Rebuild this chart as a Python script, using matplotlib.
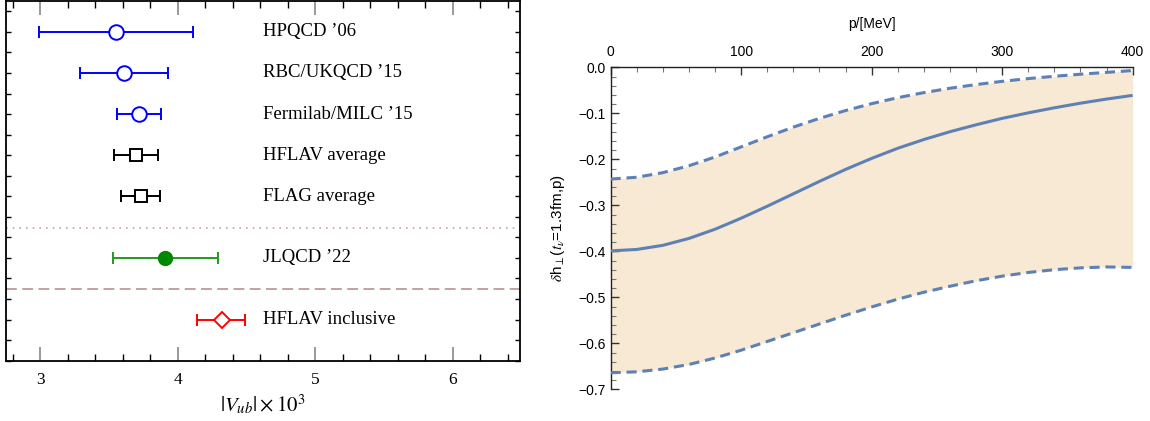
import numpy as np
import matplotlib
matplotlib.use('Agg')
import matplotlib.pyplot as plt
from matplotlib.ticker import MultipleLocator

# --- left panel: |Vub| determinations ---
labels = ["HPQCD \u201906", "RBC/UKQCD \u201915", "Fermilab/MILC \u201915", "HFLAV average",
          "FLAG average", "JLQCD \u201922", "HFLAV inclusive"]
vub = [3.55, 3.61, 3.72, 3.70, 3.73, 3.91, 4.32]
err_lo = [0.56, 0.32, 0.16, 0.16, 0.14, 0.38, 0.18]
err_hi = [0.56, 0.32, 0.16, 0.16, 0.14, 0.38, 0.17]
rows = [7, 6, 5, 4, 3, 1.5, 0]

# --- right panel: delta h_perp vs p ---
p = [0, 20, 40, 60, 80, 100, 120, 140, 160, 180, 200,
     220, 240, 260, 280, 300, 320, 340, 360, 380, 400]
central = [-0.399, -0.396, -0.387, -0.372, -0.352, -0.328, -0.302, -0.275, -0.248, -0.222, -0.198,
           -0.176, -0.157, -0.140, -0.125, -0.111, -0.099, -0.088, -0.078, -0.069, -0.061]
upper = [-0.243, -0.239, -0.229, -0.214, -0.195, -0.173, -0.151, -0.130, -0.111, -0.094, -0.079,
         -0.066, -0.055, -0.0455, -0.0375, -0.0305, -0.0245, -0.0195, -0.015, -0.011, -0.007]
lower = [-0.664, -0.662, -0.656, -0.646, -0.632, -0.615, -0.596, -0.577, -0.558, -0.539, -0.521,
         -0.504, -0.489, -0.476, -0.464, -0.454, -0.446, -0.440, -0.436, -0.434, -0.435]

plt.rcParams['mathtext.fontset'] = 'stix'

fig = plt.figure(figsize=(11.5, 4.21), dpi=100)

# ---------------- left ----------------
ax = fig.add_axes([0.005, 0.1432, 0.4472, 0.8544])
styles = [
    dict(color='#0000ff', marker='o', mfc='white', ms=10.5, mew=1.4, elw=1.4),
    dict(color='#0000ff', marker='o', mfc='white', ms=10.5, mew=1.4, elw=1.4),
    dict(color='#0000ff', marker='o', mfc='white', ms=10.5, mew=1.4, elw=1.4),
    dict(color='black', marker='s', mfc='white', ms=8, mew=1.4, elw=1.4),
    dict(color='black', marker='s', mfc='white', ms=8, mew=1.4, elw=1.4),
    dict(color='#008800', marker='o', mfc='#008800', ms=10, mew=1.0, elw=1.4),
    dict(color='#ff0000', marker='D', mfc='white', ms=8.5, mew=1.4, elw=1.4),
]
line_colors = ['#0000ff'] * 3 + ['black'] * 2 + ['#229922', '#ff0000']
for i in range(len(labels)):
    s = styles[i]
    ax.errorbar(vub[i], rows[i], xerr=[[err_lo[i]], [err_hi[i]]], fmt='none',
                ecolor=line_colors[i], elinewidth=s['elw'], capsize=4.5, capthick=s['elw'], zorder=2)
    ax.plot(vub[i], rows[i], marker=s['marker'], ms=s['ms'], mfc=s['mfc'], mec=s['color'],
            mew=s['mew'], ls='none', zorder=3)
    ax.text(4.62, rows[i], labels[i], family='Liberation Serif', fontsize=13.5,
            va='center', ha='left')

ax.axhline(2.23, color='#c8a0a8', ls=(0, (1, 3)), lw=1.2)
ax.axhline(0.75, color='#c09a9a', ls=(0, (6, 3)), lw=1.3)

ax.set_xlim(2.75, 6.49)
ax.set_ylim(-1, 7.75)
ax.xaxis.set_major_locator(MultipleLocator(1))
ax.xaxis.set_minor_locator(MultipleLocator(0.2))
ax.yaxis.set_major_locator(MultipleLocator(0.5))
ax.set_yticklabels([])
ax.tick_params(axis='x', which='major', direction='in', length=10, width=1.2,
               color='#888888', top=True, labelsize=12.5, pad=8)
ax.tick_params(axis='x', which='minor', direction='in', length=5, width=1.0, top=True)
ax.tick_params(axis='y', which='major', direction='in', length=3.5, width=1.0, right=True,
               labelleft=False)
for lab in ax.get_xticklabels():
    lab.set_family('Liberation Serif')
for sp in ax.spines.values():
    sp.set_linewidth(1.3)
ax.set_xlabel(r'$|V_{ub}| \times 10^3$', fontsize=15, labelpad=4)

# ---------------- right ----------------
bx = fig.add_axes([0.531, 0.0753, 0.4539, 0.7648])
blue = '#5e81b5'
bx.fill_between(p, lower, upper, color='#f8e9d4', lw=0, zorder=1)
bx.plot(p, central, color=blue, lw=2.2, zorder=3, solid_capstyle='butt')
bx.plot(p, upper, color=blue, lw=2.2, dashes=(3.3, 1.9), zorder=3)
bx.plot(p, lower, color=blue, lw=2.2, dashes=(3.3, 1.9), zorder=3)

bx.set_xlim(0, 400)
bx.set_ylim(-0.7, 0.0)
bx.spines['bottom'].set_visible(False)
bx.spines['right'].set_visible(False)
bx.xaxis.tick_top()
bx.xaxis.set_label_position('top')
bx.xaxis.set_major_locator(MultipleLocator(100))
bx.xaxis.set_minor_locator(MultipleLocator(20))
bx.yaxis.set_major_locator(MultipleLocator(0.1))
bx.yaxis.set_minor_locator(MultipleLocator(0.02))
bx.tick_params(which='major', direction='in', length=6, width=1.0, color='#333333',
               labelsize=10, labelfontfamily='Liberation Sans')
bx.tick_params(which='minor', direction='in', length=3.5, width=0.8, color='#777777')
bx.tick_params(axis='x', which='both', bottom=False, top=True, pad=6)
bx.set_yticks(np.arange(-0.7, 0.001, 0.1))
bx.set_yticklabels(['\u22120.7', '\u22120.6', '\u22120.5', '\u22120.4', '\u22120.3',
                    '\u22120.2', '\u22120.1', '0.0'])
bx.set_xlabel('p/[MeV]', family='Liberation Sans', fontsize=10, labelpad=12)
bx.set_ylabel(r'$\delta$h$_\perp$($t_\nu$=1.3fm,p)', family='Liberation Sans',
              fontsize=11, labelpad=8)
for sp in ['top', 'left']:
    bx.spines[sp].set_linewidth(1.0)
    bx.spines[sp].set_color('#222222')

fig.savefig('out.png', dpi=100)
